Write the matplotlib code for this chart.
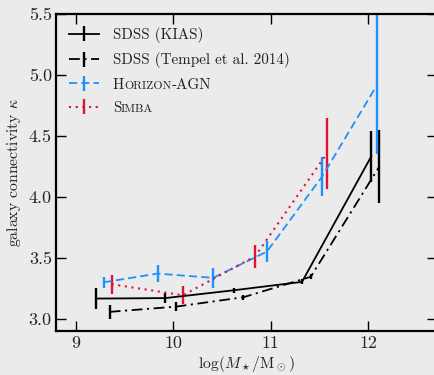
import matplotlib
matplotlib.use('Agg')
import matplotlib.pyplot as plt
from matplotlib.transforms import IdentityTransform

plt.rcParams['font.family'] = 'serif'
plt.rcParams['font.serif'] = ['cmr10']
plt.rcParams['mathtext.fontset'] = 'cm'
plt.rcParams['axes.formatter.use_mathtext'] = True
plt.rcParams['axes.unicode_minus'] = False

# ---- data ----
kias_x = [9.21, 9.92, 10.62, 11.32, 12.03]
kias_y = [3.166, 3.17, 3.234, 3.303, 4.333]
kias_err = [0.083, 0.04, 0.02, 0.02, 0.21]

tempel_x = [9.35, 10.03, 10.72, 11.41, 12.11]
tempel_y = [3.057, 3.10, 3.177, 3.345, 4.246]
tempel_err = [0.057, 0.035, 0.02, 0.02, 0.30]

hagn_x = [9.29, 9.84, 10.41, 10.96, 11.525, 12.09]
hagn_y = [3.30, 3.371, 3.336, 3.551, 4.166, 4.92]
hagn_err = [0.045, 0.068, 0.082, 0.089, 0.161, 0.57]

simba_x = [9.37, 10.10, 10.84, 11.576]
simba_y = [3.284, 3.193, 3.513, 4.357]
simba_err = [0.079, 0.075, 0.096, 0.29]

xticks = [9, 10, 11, 12]
yticks = [3.0, 3.5, 4.0, 4.5, 5.0, 5.5]

W, H = 435, 375
bg = '#ebebeb'
tc = '#222222'
fs_leg = 10.9
fs_tick = 13
fs_lab = 11.3

fig = plt.figure(figsize=(W / 100, H / 100), dpi=100, facecolor=bg)
ax = fig.add_axes([0.1287, 0.1173, 0.8753, 0.8454], facecolor=bg)

blue = '#1e90ff'
red = '#dc143c'

ax.errorbar(kias_x, kias_y, yerr=kias_err, color='black', ls='-', lw=1.3,
            elinewidth=1.7, capsize=0, label='SDSS (KIAS)')
ax.errorbar(tempel_x, tempel_y, yerr=tempel_err, color='black', ls=(0, (6, 2.5, 1.2, 2.5)),
            lw=1.3, elinewidth=1.7, capsize=0, label='SDSS (Tempel et al. 2014)')
ax.errorbar(hagn_x, hagn_y, yerr=hagn_err, color=blue, ls=(0, (4.5, 2.3)), lw=1.3,
            elinewidth=1.7, capsize=0, label='H')
ax.errorbar(simba_x, simba_y, yerr=simba_err, color=red, ls=(0, (1, 2.2)), lw=1.5,
            elinewidth=1.7, capsize=0, label='S')

ax.set_xlim(8.8, 12.7)
ax.set_ylim(2.9, 5.5)
ax.set_xticks(xticks)
ax.set_xticklabels([str(v) for v in xticks])
ax.set_yticks(yticks)
ax.set_yticklabels(['%.1f' % v for v in yticks])
ax.tick_params(direction='in', length=7, width=1.0, top=True, right=True,
               labelsize=fs_tick, labelcolor=tc, pad=3.6)
ax.tick_params(axis='y', pad=3)
for s in ax.spines.values():
    s.set_linewidth(1.6)

ax.set_xlabel(r'$\log(M_\star/\mathrm{M}_\odot)$', fontsize=fs_lab, color=tc, labelpad=2)
ax.set_ylabel(r'galaxy connectivity $\kappa$', fontsize=fs_lab, color=tc, labelpad=4)

leg = ax.legend(loc='upper left', frameon=False, fontsize=fs_leg, handlelength=2.0,
                handletextpad=0.9, labelspacing=0.63, borderaxespad=0.5,
                borderpad=0.35)
for t in leg.get_texts():
    t.set_color(tc)

fig.canvas.draw()
renderer = fig.canvas.get_renderer()

def small_caps_after(txt, pieces):
    bb = txt.get_window_extent(renderer)
    base = txt.get_transform().transform(txt.get_position())[1]
    x = bb.x1
    for s, scale in pieces:
        t = fig.text(x, base, s, transform=IdentityTransform(), fontsize=fs_leg * scale,
                     color=tc, va='baseline', ha='left')
        x = t.get_window_extent(renderer).x1

texts = leg.get_texts()
small_caps_after(texts[2], [('ORIZON', 0.78), ('-AGN', 1.0)])
small_caps_after(texts[3], [('IMBA', 0.78)])

fig.savefig('out.png', dpi=100, facecolor=bg)
